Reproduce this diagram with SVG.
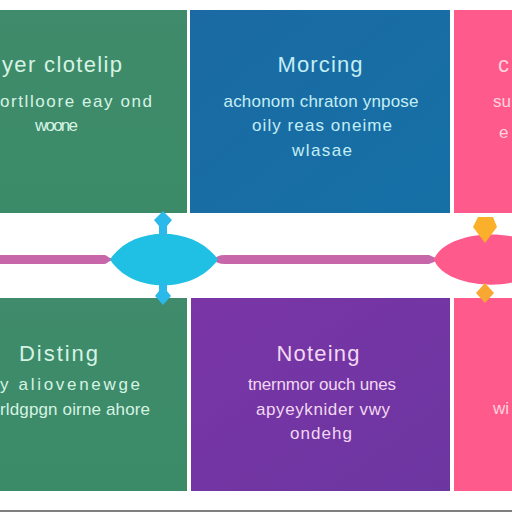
<svg xmlns="http://www.w3.org/2000/svg" width="512" height="512" viewBox="0 0 512 512">
<defs>
<linearGradient id="gGreen" x1="0" y1="0" x2="0" y2="1"><stop offset="0" stop-color="#3f8b6b"/><stop offset="1" stop-color="#3b8b68"/></linearGradient>
<linearGradient id="gBlue" x1="0" y1="0" x2="1" y2="1"><stop offset="0" stop-color="#1b6aa3"/><stop offset="1" stop-color="#1570a6"/></linearGradient>
<linearGradient id="gPurple" x1="0" y1="0" x2="1" y2="1"><stop offset="0" stop-color="#7a35a6"/><stop offset="1" stop-color="#6c36a1"/></linearGradient>
<style>
.t{font-family:"Liberation Sans","DejaVu Sans",Arial,sans-serif;}
.title{font-size:22px;}
.body{font-size:17px;}
.onG{fill:#d6f3e4;}
.onB{fill:#c4eef4;}
.onP{fill:#f1d8f2;}
.onK{fill:#ffd3df;}
.link{stroke:#c866aa;stroke-width:9;stroke-linecap:round;fill:none;}
</style>
</defs>
<rect width="512" height="512" fill="#ffffff"/>

<g id="panel-top-green">
<rect x="0" y="10" width="187" height="203" fill="url(#gGreen)"/>
<text class="t title onG" x="2" y="72" textLength="120">yer clotelip</text>
<text class="t body onG" x="0" y="107" textLength="152">ortlloore eay ond</text>
<text class="t body onG" x="35" y="131" textLength="43">woone</text>
</g>

<g id="panel-top-blue">
<rect x="190" y="10" width="260" height="203" fill="url(#gBlue)"/>
<text class="t title onB" x="320" y="72" text-anchor="middle" textLength="85">Morcing</text>
<text class="t body onB" x="321" y="107" text-anchor="middle" textLength="195">achonom chraton ynpose</text>
<text class="t body onB" x="322" y="131" text-anchor="middle" textLength="140">oily reas oneime</text>
<text class="t body onB" x="322" y="156" text-anchor="middle" textLength="60">wlasae</text>
</g>

<g id="panel-top-pink">
<rect x="454" y="10" width="58" height="203" fill="#ff5a8c"/>
<text class="t title onK" x="498" y="72">c</text>
<text class="t body onK" x="493" y="107">su</text>
<text class="t body onK" x="499" y="138">e</text>
</g>

<g id="panel-bottom-green">
<rect x="0" y="298" width="187" height="193" fill="url(#gGreen)"/>
<text class="t title onG" x="19" y="361" textLength="79">Disting</text>
<text class="t body onG" x="0" y="390" textLength="140">y aliovenewge</text>
<text class="t body onG" x="0" y="415" textLength="150">rldgpgn oirne ahore</text>
</g>

<g id="panel-bottom-purple">
<rect x="191" y="298" width="259" height="193" fill="url(#gPurple)"/>
<text class="t title onP" x="318" y="361" text-anchor="middle" textLength="83">Noteing</text>
<text class="t body onP" x="322" y="390" text-anchor="middle" textLength="148">tnernmor ouch unes</text>
<text class="t body onP" x="323" y="415" text-anchor="middle" textLength="134">apyeyknider vwy</text>
<text class="t body onP" x="321" y="439" text-anchor="middle" textLength="62">ondehg</text>
</g>

<g id="panel-bottom-pink">
<rect x="454" y="298" width="58" height="193" fill="#ff5a8c"/>
<text class="t body onK" x="493" y="414">wi</text>
</g>

<g id="connectors">
<line class="link" x1="0" y1="259.5" x2="104" y2="259.5"/>
<path d="M100,255 Q108,256 113,259.5 Q108,263 100,264 Z" fill="#c866aa"/>
<line class="link" x1="224" y1="259.5" x2="428" y2="259.5"/>
<path d="M222,255 Q216,256 214,259.5 Q216,263 222,264 Z" fill="#c866aa"/>
<path d="M426,255 Q434,256 438,259.5 Q434,263 426,264 Z" fill="#c866aa"/>
</g>

<g id="node-cyan">
<path d="M110,259.5 C132,225 194,225 218,259.5 C194,294 132,294 110,259.5 Z" fill="#1fc0e3"/>
<path d="M159,236 L159,226 L154,220 L163,211 L172,220 L167,226 L167,236 Z" fill="#2ab9e8"/>
<path d="M159,283 L159,291 L155,296 L163,305 L171,296 L167,291 L167,283 Z" fill="#2ab9e8"/>
</g>

<g id="node-pink">
<path d="M434,259.5 C446,226 540,226 540,259.5 C540,293 446,293 434,259.5 Z" fill="#ff5a8c"/>
<polygon points="478,217 493,217 497,227 485,243 473,227" fill="#fbb02c"/>
<polygon points="485,283 494,293 485,303 476,293" fill="#f8a733"/>
</g>

<line x1="0" y1="511" x2="512" y2="511" stroke="#555555" stroke-width="1.5"/>
</svg>
